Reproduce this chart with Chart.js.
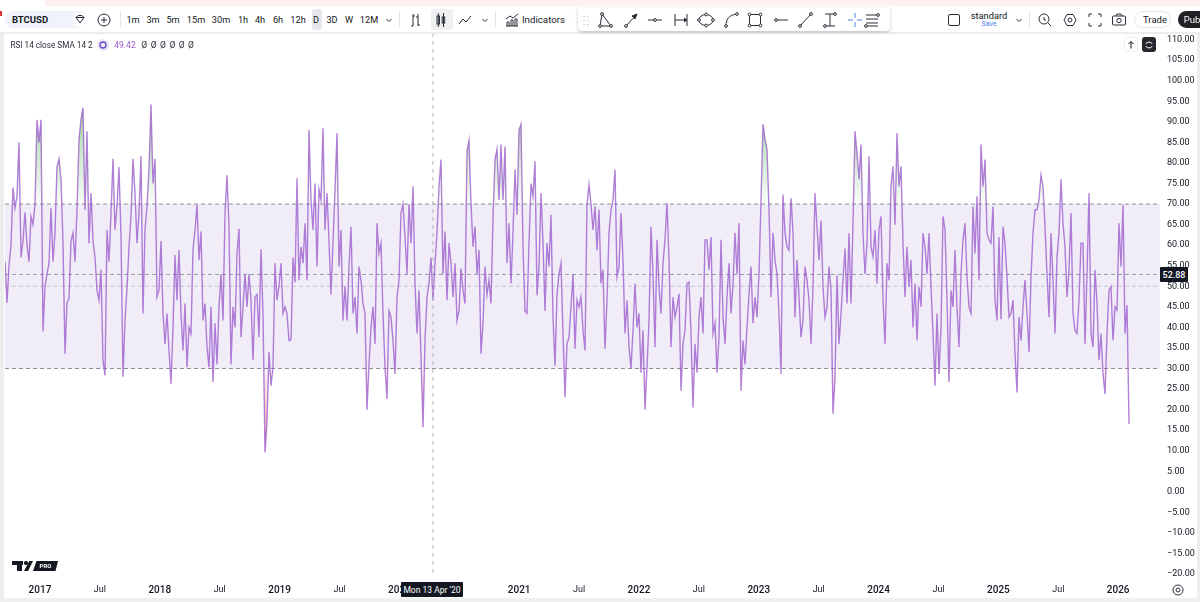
<!DOCTYPE html>
<html><head><meta charset="utf-8">
<script src="https://cdn.jsdelivr.net/npm/chart.js@4"></script>
<style>
html,body{margin:0;padding:0;background:#fff;width:1200px;height:602px;overflow:hidden;font-family:Roboto,"Liberation Sans",sans-serif;color:#131722}
#wrap{position:relative;width:1200px;height:602px}
canvas{position:absolute;left:0;top:0}
.t{position:absolute;white-space:nowrap;line-height:1;transform:translate(-50%,-50%);font-size:9.2px}
.b{position:absolute}
svg.i{position:absolute;overflow:visible;fill:none;stroke:#2a2e39;stroke-width:1}
</style></head><body><div id="wrap">
<canvas id="c" width="1200" height="602"></canvas>
<div id="ui"></div>
</div>
<script>
// Values, one point every 6.1 days
const rsiPart1=[56,46,55,60,74,69,72,85,57,61,68,60,56,67,65,70,90.5,85,90.5,39,50,53,55.6,69,56,63,79,81,76,60.5,33.6,46,47,61,63,56,68.6,85.7,90.5,93.4,68.6,87.7,60.5,72.7,61,57,49,46.6,54,32,28.3,63.7,56,67.8,81,63.7,69.4,79,62,28,41.7,49.5,59.6,67,81,72.7,60.5,67.8,81.6,43.4,63.7,69.4,78.4,94.2,75,81,47.4,49,61,43.4,36,43.4,34.4,26.3,40,57.6,46.6,58.8,43.4,34.4,45.8,30.3,40,38.5,58.8,63.7,69.8,56.4,63.3,41.7,45.8,35.2,30.3,45,26.7,41,31,45,53,41.7,67.8,77,64.5,31,45,40,58,64,37.6,45,53,45,53,46.6,32,47.4,48,37.6,59,43.4,9.6,17,34,25.8,30.3,55.6,46.6,50,55.6,43.4,45,43.4,36.8,37,57,51,76.3,51.5];
const rsiPart2=[59.6,55.6,65.3,51.5,88,71,63.7,75,54.8,73.5,71,88.5,63.7,72.7,61,48,60.5,73.5,87.3,54.8,63.7,41.7,50,41.7,54.8,64.5,43.4,47.4,38.5,54.8,51.5,45.8,43.4,20,31,40,45,36,65.3,58,60.5,43.4,30.3,22.6,44,42.5,36.8,28.7,47.4,51.5,67.8,70,62,53,70,60.5,74.3,50.7,38.5,49,32.8,15.7,36.8,47.4,50.7,57,46.6,55.6,63,74.3,80.8,53,63.3,46.6,60.5,55.6,47.4,55.6,41.7,44,54.3,49,45.8,82.8,85.5,70,59.6,64.5,53,58.8,33.6,41,54.8,48,51.5,45.8,66.6,80.8,83.3,71,84.5,71,84,55.6,65.3,50.7,63,78.4,67.4,88,89.4,59.6,44,43.4,60.5,75,71.9,80.4,47.8,54.8,72.7,60.5,44,60.5,54.8,67.4,42.5,30.7,48,53,55.6,38.5,23,36,37.6,45,53,34.8,46.6,45,47.4,39.3,34.4,70,74.7,70,63.7,69.4,58.8,68.6];
const rsiPart3=[50.7,54,34.8,46.6,63,68.6,71,78.4,52.3,54.8,67.8,56.4,38.5,46.6,35.2,30,39.3,50.7,40,43.4,29,39.3,20,30.3,41.7,64.5,53,35.2,61.3,49.9,43.4,55.6,61.3,70.2,56.4,35.2,47.4,42.5,45,48.2,24.6,36,39.3,50.7,51,38.5,20.5,36,29,42.5,47.4,38.5,61.3,61.3,54,62,38.5,41,29,37.6,61.3,42.5,36,47.4,55.6,43.4,50.7,63,53,65.3,24.6,36.8,31,40,48,54.8,41,47.4,42.5,53,71,89.4,85.7,83.3,68.6,47.4,63,56.4,53,43.4,28.7,72.3,63,59.6,58.8,71.4,63,42.5,56.4,47.4,37.6,41.7,54.8,51.5,46.6,36,49.9,72.7,64.5,56.4,66,49.9,42.5,45,54.8,49,19,27.9,52.7,36,43.4,51.5,59.2,45.8,62.9,45.8,65.3,87.7,82.4,76,84.5,62.9,53,60.5,81.6,59.6,57.2,63.7,50.7,63.7,67,46.6,36,55.6,51.5,74.3,79.2,65,87.3,74.3];
const rsiPart4=[79.2,60.5,47.4,59.6,49.9,56.4,40,50.7,36.8,49.9,45,62.9,59.6,53,62.9,49.9,38.5,25.8,43.4,28.7,40,67,63.7,46.6,26.7,49,45,58.8,45,35.2,53,61.3,65.3,52.3,45,43.4,69.4,58,71.9,51.5,84.5,74.3,80.8,62.9,61.3,60.5,69.4,46.6,41.7,62,42,64.5,60.5,52.3,42.5,43.4,46.6,33.6,24.2,42.5,36.8,45,51.5,43.4,34,52.3,62.9,68.6,68.6,71,77,74.3,64.5,53,42.5,62.9,51.5,38.5,57.2,62.9,76,65.3,59.6,47.4,54,67.8,43.4,39.3,38.5,46.6,60.5,60.5,36,53,72.7,38.5,35.2,54,45.8,32,38.5,28.7,23.8,38.5,49,49.9,36.8,45,44.2,65.3,54.8,69.8,38.5,45.4,16.5];
const rsiValues=[...rsiPart1,...rsiPart2,...rsiPart3,...rsiPart4];
const firstYear=2016.708, stepYears=1/59.9;
const tickYears=[2017,2018,2019,2020,2021,2022,2023,2024,2025,2026];
const tickMidYears=[2017.5,2018.5,2019.5,2021.5,2022.5,2023.5,2024.5,2025.5];
const upperBand=70, lowerBand=30, middleBand=50, lastPrice=52.88, lastPriceLabel='52.88';
const crosshairYear=2020.28, crosshairLabel='Mon 13 Apr \'20';
const xMin=2016.708, xMax=2026.349, yMin=-20.7, yMax=111.6;

const pts=rsiValues.map((v,i)=>({x:firstYear+i*stepYears,y:v}));
const flat=v=>[{x:xMin,y:v},{x:xMax,y:v}];
const cv=document.getElementById('c');const ctx=cv.getContext('2d');
const green=ctx.createLinearGradient(0,120,0,204);green.addColorStop(0,'rgba(76,175,80,.45)');green.addColorStop(1,'rgba(76,175,80,.03)');
const red=ctx.createLinearGradient(0,368,0,450);red.addColorStop(0,'rgba(255,82,82,.05)');red.addColorStop(1,'rgba(255,82,82,.5)');
const dashLine=(v,col)=>({data:flat(v),borderColor:col,borderWidth:1,borderDash:[4,3],pointRadius:0,fill:false});
const crosshair={id:'crosshair',afterDatasetsDraw(ch){const x=ch.scales.x.getPixelForValue(crosshairYear);const a=ch.chartArea;const c=ch.ctx;c.save();c.strokeStyle='#b5b7bc';c.lineWidth=1;c.setLineDash([4,4]);c.beginPath();c.moveTo(x,a.top);c.lineTo(x,a.bottom);c.stroke();c.restore();}};
const isYearTick=c=>!!c.tick&&Number.isInteger(c.tick.value);
new Chart(cv,{type:'line',data:{datasets:[
 {data:pts,borderColor:'rgba(150,82,203,.72)',borderWidth:1.4,pointRadius:0,tension:0,fill:{target:{value:upperBand},above:green,below:'rgba(0,0,0,0)'}},
 {data:pts,borderWidth:0,borderColor:'rgba(0,0,0,0)',pointRadius:0,fill:{target:{value:lowerBand},above:'rgba(0,0,0,0)',below:red}},
 dashLine(upperBand,'#8d8f96'),
 dashLine(lastPrice,'#9a9ca3'),
 dashLine(middleBand,'#c4c5ca'),
 dashLine(lowerBand,'#8d8f96'),
 {data:flat(upperBand),borderWidth:0,pointRadius:0,fill:{target:{value:lowerBand},above:'rgba(126,87,194,.115)',below:'rgba(126,87,194,.115)'}}
]},plugins:[crosshair],options:{responsive:false,animation:false,parsing:false,normalized:true,
 layout:{padding:{left:5,top:33,right:4,bottom:4}},
 plugins:{legend:{display:false},tooltip:{enabled:false}},
 scales:{
  x:{type:'linear',min:xMin,max:xMax,grid:{display:false,drawTicks:false},border:{display:false},
   afterBuildTicks(a){a.ticks=[...tickYears,...tickMidYears].sort((p,q)=>p-q).map(v=>({value:v}));},
   afterFit(a){a.height=21;},
   ticks:{maxRotation:0,autoSkip:false,padding:7,color:'#131722',
    font:c=>({family:'Roboto',size:isYearTick(c)?10:9,weight:isYearTick(c)?'500':'400'}),
    callback:v=>Number.isInteger(v)?String(v):'Jul'}},
  y:{position:'right',min:yMin,max:yMax,grid:{display:false,drawTicks:false},border:{display:false},
   afterFit(a){a.width=36;},
   afterBuildTicks(a){const t=[];for(let v=-20;v<=110;v+=5)t.push({value:v});a.ticks=t;},
   ticks:{padding:7,autoSkip:false,color:'#131722',font:{family:'Roboto',size:9},
    callback:v=>(v<0?'\u2212':'')+Math.abs(v).toFixed(2)}}
 }}});

// page furniture around the chart
const ui=document.getElementById('ui');
const box=(l,t,w,h,css)=>{const d=document.createElement('div');d.className='b';d.style.cssText=`left:${l}px;top:${t}px;width:${w}px;height:${h}px;${css||''}`;ui.appendChild(d);return d;};
const txt=(s,x,y,css)=>{const d=document.createElement('div');d.className='t';d.textContent=s;d.style.cssText=`left:${x}px;top:${y}px;${css||''}`;ui.appendChild(d);return d;};
const svg=(x,y,inner,css)=>{const d=document.createElementNS('http://www.w3.org/2000/svg','svg');d.setAttribute('class','i');d.setAttribute('width',20);d.setAttribute('height',20);d.setAttribute('viewBox','-10 -10 20 20');d.style.cssText=`left:${x-10}px;top:${y-10}px;${css||''}`;d.innerHTML=inner;ui.appendChild(d);};
box(0,0,1200,7,'background:#fff');box(45,0,1155,6,'background:#fdf3ee');
box(0,7,1200,25,'background:#fff');box(0,32,1200,2,'background:#eceded');
box(0,32,4,570,'background:#eceded');box(1197,32,3,570,'background:#eceded');box(0,598,1200,4,'background:#f0f0f1');
box(0,11,2,5,'background:#e03030');
// symbol pill
box(5,11,83,17,'background:#f0f3fa;border-radius:9px');txt('BTCUSD',30,19.5,'font-weight:700;font-size:9.5px');
svg(80,19.5,'<circle r="7.5" stroke="none" fill="#fff"/><path d="M-4-2.5L-2-4.5H2L4-2.5L0 3Z"/><path d="M-4-2.5H4"/>');
svg(104,19.5,'<circle r="6"/><path d="M-3 0H3M0-3V3"/>');
box(120,11,1,17,'background:#e4e5e8');
box(312,9,10,21,'background:#e6e7ea;border-radius:3px');
[['1m',133],['3m',153],['5m',173],['15m',196],['30m',221],['1h',243],['4h',260],['6h',278],['12h',298],['D',316],['3D',332],['W',349],['12M',369]].forEach(a=>txt(a[0],a[1],19.5));
const chev='<path d="M-2.5-1L0 1.5L2.5-1"/>';
svg(389,19.5,chev);box(399,11,1,17,'background:#e4e5e8');
svg(415,19.5,'<path d="M-2-6V6M-4 6H-2M-2-4H0M3-6V6M1-3H3M3 5H5"/>');
box(431,9,22,21,'background:#eff0f2;border-radius:3px');
svg(441,19.5,'<rect x="-4" y="-4" width="2.5" height="8"/><path d="M-2.7-7V7M2.5-7V7"/><rect x="1.2" y="-3" width="2.5" height="6"/>');
svg(465,19.5,'<path d="M-6 4L-2-1L1 2L6-4"/>');svg(485,19.5,chev);box(495,11,1,17,'background:#e4e5e8');
svg(512,19.5,'<path d="M-6 6H6M-5 6V2H-3V6M-1 6V0H1V6M3 6V-1H5V6M-6-1L-2-4L1-2L6-6"/>');
txt('Indicators',543.5,19.5,'font-size:9.7px');
// drawing toolbar
box(578,8,312,23,'background:#fff;border-radius:0 0 4px 4px;box-shadow:0 1px 3px rgba(0,0,0,.28)');
svg(586,19.5,'<path d="M-2-4V-3M2-4V-3M-2 0V1M2 0V1M-2 4V5M2 4V5" stroke="#b0b2b8"/>');
const dot=(x,y)=>`<circle cx="${x}" cy="${y}" r="1.4" fill="#fff"/>`;
const tools=[[605,'<path d="M-5 6L-3-6L6 6Z"/>'+dot(-5,6)+dot(6,6)+dot(-3,-6)],[631,'<path d="M-5 6L6-6"/><path d="M1-4L4-1L6-6Z" fill="#2a2e39"/>'+dot(-5,6)],[655,'<path d="M-7 0H7"/>'+dot(0,0)],[681,'<path d="M-6-6V6M6-6V6M-6 0H5"/><path d="M3-2L6 0L3 2" fill="#2a2e39"/>'],[706,'<ellipse rx="7" ry="5.5"/>'+dot(-7,0)+dot(7,0)+dot(0,-5.5)+dot(0,5.5)],[731,'<path d="M-5 6C-5-2 -1-5 6-6"/>'+dot(-5,6)+dot(6,-6)],[755,'<rect x="-5.5" y="-5.5" width="11" height="11"/>'+dot(-5.5,-5.5)+dot(5.5,-5.5)+dot(-5.5,5.5)+dot(5.5,5.5)],[781,'<path d="M-5 0H7"/>'+dot(-5,0)],[805,'<path d="M-5 6L6-6"/>'+dot(-5,6)+dot(6,-6)],[830,'<path d="M-5-6H5M0-6V6M-5 6H5"/>'+dot(5,-6)+dot(-5,6)],[872,'<path d="M-6-5H6M-6-1H6M-6 3H6M-6 6H6"/>'+dot(6,-5)+dot(-6,6)]];
tools.forEach(a=>svg(a[0],19.5,a[1]));
svg(855,19.5,'<path d="M-7 0H-2M2 0H7M0-7V-2M0 2V7" stroke="#4d7fe8"/>');
// right-hand controls
svg(954,19.5,'<rect x="-5.5" y="-5.5" width="11" height="11" rx="1.5"/>');
txt('standard',989,16,'font-size:9.3px');txt('Save',989,24,'font-size:7px;color:#4d7fe8');
svg(1019,19.5,chev);box(1029,11,1,17,'background:#e4e5e8');
svg(1045,19.5,'<circle r="5" cx="-1" cy="-1"/><path d="M3 3L6 6M-1-3V0H1"/>');
svg(1070,19.5,'<path d="M-6 0L-3-5.5H3L6 0L3 5.5H-3Z"/><circle r="2"/>');
svg(1095,19.5,'<path d="M-6-3V-6H-3M3-6H6V-3M6 3V6H3M-3 6H-6V3"/>');
svg(1119,19.5,'<rect x="-6.5" y="-4" width="13" height="9" rx="1"/><path d="M-3-4L-2-6H2L3-4"/><circle r="2.2" cy=".5"/>');
box(1134,11,37,17,'border:1px solid #e6e7ea;border-radius:9px;box-sizing:border-box');txt('Trade',1155,19.5,'font-size:9.5px');
box(1178,11,30,17,'background:#202124;border-radius:9px');txt('Pub',1192,19.5,'color:#fff;font-size:9.5px');
// chart overlays
txt('RSI 14 close SMA 14 2',51.5,44.5,'font-size:8.2px;color:#2a2e39');
svg(103,44.5,'<circle r="6" stroke="none" fill="#ede7f6"/><circle r="3" stroke="#6a4fd0" stroke-width="1.4"/>');
txt('49.42',125,44.5,'font-size:8.5px;color:#9c5cc9');
txt('Ø Ø Ø Ø Ø Ø',168,44.5,'font-size:8.5px;color:#2a2e39;letter-spacing:.7px');
box(1124,37,14,15,'background:#fff;border:1px solid #f0f0f2;border-radius:2px;box-sizing:border-box');
svg(1131,44.5,'<path d="M0 3.5V-3.5M-2.5-1L0-3.5L2.5-1" stroke="#131722"/>');
box(1142,37,14,15,'background:#26282d;border-radius:3px');
svg(1149,44.5,'<path d="M-3-1C-3-3.5 3-3.5 3-1M-3 1C-3 3.5 3 3.5 3 1" stroke="#fff"/>');
box(1160,267,28,15,'background:#131722;border-radius:1px');txt(lastPriceLabel,1174,274.5,'color:#fff;font-size:9px;font-weight:500');
box(401,582,62,15,'background:#131722;border-radius:1px');txt(crosshairLabel,432,589.5,'color:#fff;font-size:8.5px');
svg(1178,590,'<circle r="5"/><circle r="2"/>');
// logo
box(12,561,11,3.5,'background:#131722');box(16.5,561,5,10,'background:#131722');
box(24,561,3.5,3.5,'background:#131722;border-radius:50%');
box(24,561,9,10,'background:#131722;clip-path:polygon(60% 0,100% 0,45% 100%,0 100%)');
box(33,561,25,10,'background:#131722;clip-path:polygon(14% 0,100% 0,90% 100%,0 100%)');
txt('PRO',45.5,566,'color:#fff;font-size:6px;font-weight:700');
</script></body></html>
